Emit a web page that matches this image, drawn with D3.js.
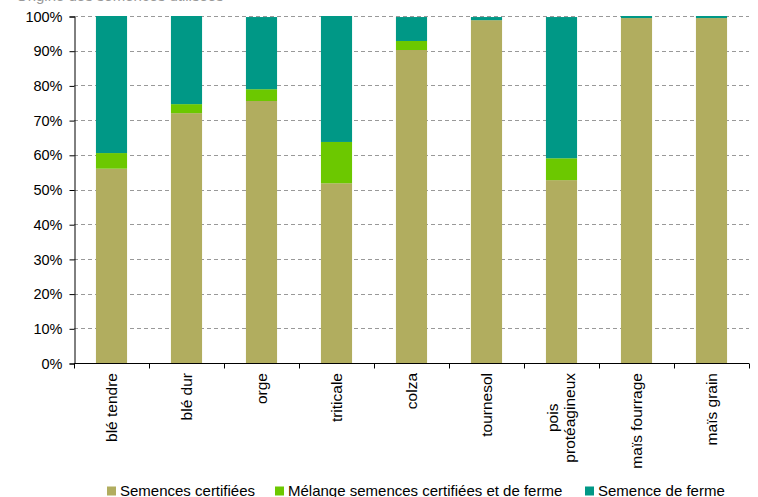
<!DOCTYPE html>
<html>
<head>
<meta charset="utf-8">
<script src="https://cdn.jsdelivr.net/npm/d3@7/dist/d3.min.js"></script>
<style>
  html, body { margin: 0; padding: 0; background: #fff; }
  svg { display: block; font-family: "Liberation Sans", Arial, sans-serif; }
</style>
</head>
<body>
<svg id="chart" width="758" height="497"></svg>
<script>
// Crops (multi-line labels use "\n")
const categories = ["blé tendre", "blé dur", "orge", "triticale", "colza", "tournesol", "pois\nprotéagineux", "maïs fourrage", "maïs grain"];
// Shares of sown area by seed origin, in %
const certifiees = [56.0, 72.0, 75.5, 51.8, 90.2, 98.8, 52.7, 99.4, 99.4];
const melange    = [4.5, 2.6, 3.4, 11.9, 2.6, 0.0, 6.3, 0.0, 0.0];
const ferme      = [39.5, 25.4, 20.8, 36.3, 6.9, 0.9, 40.7, 0.6, 0.6];
const seriesNames = ["Semences certifiées", "Mélange semences certifiées et de ferme", "Semence de ferme"];
const seriesColors = ["#B1AD5F", "#6CC800", "#009886"];
const yTicks = [0, 10, 20, 30, 40, 50, 60, 70, 80, 90, 100];

const svg = d3.select("#chart");
const plotLeft = 74, plotRight = 749, plotTop = 16, plotBottom = 363;

const x = d3.scaleBand().domain(categories).range([plotLeft, plotRight]).padding(0);
const y = d3.scaleLinear().domain([0, 100]).range([plotBottom, plotTop]);

// Title (sits mostly above the visible area)
svg.append("text")
  .attr("x", 16).attr("y", 0.5)
  .attr("fill", "#999").attr("font-size", 15)
  .text("Origine des semences utilisées");

// Dashed horizontal gridlines
svg.append("g").selectAll("line")
  .data(yTicks.filter(t => t > 0))
  .join("line")
  .attr("x1", plotLeft).attr("x2", plotRight)
  .attr("y1", d => Math.round(y(d)) + 0.5).attr("y2", d => Math.round(y(d)) + 0.5)
  .attr("stroke", "#999").attr("stroke-width", 1)
  .attr("stroke-dasharray", "4,3");

// Stacked bars
const rows = categories.map((c, i) => ({ cat: c, vals: [certifiees[i], melange[i], ferme[i]] }));
const stack = d3.stack().keys([0, 1, 2]).value((d, k) => d.vals[k]);
const stacked = stack(rows);
const barW = x.bandwidth() * 0.415;

svg.append("g").selectAll("g")
  .data(stacked)
  .join("g")
  .attr("fill", (d, i) => seriesColors[i])
  .selectAll("rect")
  .data(d => d)
  .join("rect")
  .attr("x", d => x(d.data.cat) + (x.bandwidth() - barW) / 2)
  .attr("width", barW)
  .attr("y", d => y(d[1]))
  .attr("height", d => Math.max(0, y(d[0]) - y(d[1])));

// Y axis
const yAxis = d3.axisLeft(y)
  .tickValues(yTicks)
  .tickFormat(d => d + "%")
  .tickSize(5)
  .tickPadding(7);
const gy = svg.append("g").attr("transform", `translate(${plotLeft + 0.5},0.5)`).call(yAxis);
gy.selectAll("text").attr("font-size", 14.5).attr("fill", "#000")
  .attr("font-family", "Liberation Sans, Arial, sans-serif");
gy.selectAll("line, path").attr("stroke", "#000");

// X axis: line with ticks at band boundaries
const gx = svg.append("g").attr("transform", `translate(0,${plotBottom + 0.5})`);
gx.append("line").attr("x1", plotLeft).attr("x2", plotRight).attr("stroke", "#000");
const edges = categories.map(c => x(c)).concat([plotRight]);
gx.selectAll("line.tick")
  .data(edges)
  .join("line")
  .attr("class", "tick")
  .attr("x1", d => Math.round(d) + 0.5).attr("x2", d => Math.round(d) + 0.5)
  .attr("y1", 0).attr("y2", 5)
  .attr("stroke", "#000");

// Rotated category labels
const lineGap = 17;
categories.forEach(c => {
  const cx = x(c) + x.bandwidth() / 2;
  const lines = c.split("\n");
  const g = svg.append("g").attr("transform", `translate(${cx},373) rotate(-90)`);
  const texts = lines.map((ln, j) => g.append("text")
    .attr("font-size", 15.5).attr("fill", "#000")
    .attr("y", (j - (lines.length - 1) / 2) * lineGap)
    .attr("dy", "0.35em")
    .text(ln));
  const maxLen = d3.max(texts, t => t.node().getComputedTextLength());
  texts.forEach(t => t.attr("text-anchor", "middle").attr("x", -maxLen / 2));
});

// Legend
const legendX = [107, 275, 585];
const lg = svg.append("g");
seriesNames.forEach((name, i) => {
  lg.append("rect").attr("x", legendX[i]).attr("y", 486.5).attr("width", 9).attr("height", 9)
    .attr("fill", seriesColors[i]);
  lg.append("text").attr("x", legendX[i] + 13).attr("y", 495.5)
    .attr("font-size", 15).attr("fill", "#000").text(name);
});
</script>
</body>
</html>
